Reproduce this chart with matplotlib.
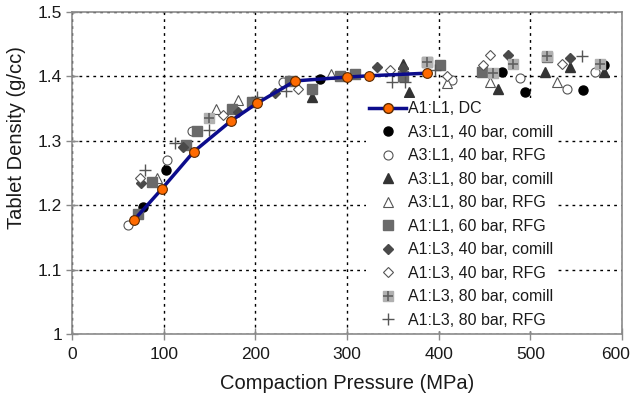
import numpy as np
import matplotlib.pyplot as plt
import matplotlib.transforms as mtransforms
from matplotlib.lines import Line2D

plt.rcParams['font.family'] = ['Liberation Sans', 'DejaVu Sans']

# A1:L1, DC (line + orange markers)
dc_x = [67.6, 97.8, 132.7, 173.5, 201.5, 243.3, 300.4, 324.4, 387.0]
dc_y = [1.177, 1.225, 1.283, 1.331, 1.358, 1.393, 1.399, 1.401, 1.405]

a3l1_40_comill_x = [77.8, 102.5, 270.0, 469.0, 494.0, 557.0, 580.0]
a3l1_40_comill_y = [1.197, 1.254, 1.396, 1.407, 1.376, 1.379, 1.418]

a3l1_40_rfg_x = [61.5, 104.0, 131.0, 230.5, 414.0, 488.7, 540.0, 570.5]
a3l1_40_rfg_y = [1.169, 1.270, 1.316, 1.392, 1.394, 1.397, 1.381, 1.407]

a3l1_80_comill_x = [261.5, 361.5, 368.0, 465.0, 516.0, 543.0, 580.0]
a3l1_80_comill_y = [1.368, 1.420, 1.376, 1.381, 1.407, 1.415, 1.407]

a3l1_80_rfg_x = [92.4, 157.0, 181.0, 283.0, 408.7, 456.0, 528.7]
a3l1_80_rfg_y = [1.243, 1.349, 1.363, 1.404, 1.389, 1.392, 1.392]

a1l1_60_rfg_x = [72.4, 86.9, 124.4, 136.7, 174.0, 196.0, 237.8, 261.5, 292.0,
                 309.0, 361.5, 387.0, 401.5, 447.0, 517.8]
a1l1_60_rfg_y = [1.187, 1.236, 1.294, 1.316, 1.350, 1.361, 1.393, 1.381, 1.401,
                 1.404, 1.400, 1.423, 1.418, 1.407, 1.430]

a1l3_40_comill_x = [74.9, 121.4, 181.5, 221.5, 332.4, 361.5, 476.0, 543.0]
a1l3_40_comill_y = [1.235, 1.291, 1.345, 1.375, 1.415, 1.413, 1.433, 1.428]

a1l3_40_rfg_x = [74.2, 165.0, 246.9, 347.0, 408.7, 448.7, 456.0, 534.0]
a1l3_40_rfg_y = [1.243, 1.340, 1.381, 1.410, 1.400, 1.418, 1.433, 1.420]

a1l3_80_comill_x = [149.8, 387.0, 459.6, 481.5, 517.8, 576.0]
a1l3_80_comill_y = [1.335, 1.423, 1.405, 1.420, 1.431, 1.420]

a1l3_80_rfg_x = [79.6, 112.4, 149.8, 201.5, 233.5, 348.7, 363.0, 396.0, 556.0]
a1l3_80_rfg_y = [1.255, 1.297, 1.317, 1.368, 1.378, 1.392, 1.392, 1.410, 1.431]

fig = plt.figure(figsize=(6.34, 3.95), dpi=100)
ax = fig.add_axes([0.1136, 0.1544, 0.8675, 0.8152])

ms = 6.5
sq_ms = 6.5
ax.plot(a3l1_40_comill_x, a3l1_40_comill_y, 'o', ms=ms, color='black', mec='black', zorder=3)
ax.plot(a3l1_40_rfg_x, a3l1_40_rfg_y, 'o', ms=ms, mfc='white', mec='#555555', mew=0.8, zorder=3)
ax.plot(a3l1_80_comill_x, a3l1_80_comill_y, '^', ms=ms + 0.5, color='#333333', zorder=3)
ax.plot(a3l1_80_rfg_x, a3l1_80_rfg_y, '^', ms=ms + 0.5, mfc='white', mec='#555555', mew=0.8, zorder=3)
ax.plot(a1l1_60_rfg_x, a1l1_60_rfg_y, 's', ms=sq_ms, color='#6a6a6a', zorder=3)
ax.plot(a1l3_40_comill_x, a1l3_40_comill_y, 'D', ms=ms - 1, color='#4a4a4a', zorder=3)
ax.plot(a1l3_40_rfg_x, a1l3_40_rfg_y, 'D', ms=ms - 1, mfc='white', mec='#555555', mew=0.8, zorder=3)
ax.plot(a1l3_80_comill_x, a1l3_80_comill_y, 's', ms=sq_ms, color='#b0b0b0', zorder=3)
ax.plot(a1l3_80_comill_x, a1l3_80_comill_y, '+', ms=sq_ms + 1, color='#606060', mew=1.2, zorder=3)
ax.plot(a1l3_80_rfg_x, a1l3_80_rfg_y, '+', ms=ms + 2, color='#555555', mew=1.0, zorder=3)

ax.plot(dc_x, dc_y, '-o', color='#0c0c8c', lw=2.5, ms=7, mfc='#ff6a00',
        mec='#5a2a00', mew=0.8, zorder=4)

ax.set_xlim(0, 600)
ax.set_ylim(1.0, 1.5)
ax.set_xticks(np.arange(0, 601, 100))
ax.set_yticks([1.0, 1.1, 1.2, 1.3, 1.4, 1.5])
ax.set_yticklabels(['1', '1.1', '1.2', '1.3', '1.4', '1.5'])
ax.grid(True, color='black', linestyle=(0, (2, 3)), linewidth=1.0)
ax.set_axisbelow(True)

for s in ax.spines.values():
    s.set_color('#8a8a8a')
    s.set_linewidth(1.2)
ax.tick_params(direction='inout', length=8, width=1.0, color='#8a8a8a',
               labelsize=12.5, labelcolor='#1a1a1a', pad=3)
ax.tick_params(axis='x', pad=5)

# last x tick label sits a bit left of the spine in the reference
last = ax.get_xticklabels()[-1]
last.set_transform(last.get_transform() +
                   mtransforms.ScaledTranslation(-6 / 100, 0, fig.dpi_scale_trans))

ax.set_xlabel('Compaction Pressure (MPa)', fontsize=14.5, color='#1a1a1a', labelpad=9)
ax.set_ylabel('Tablet Density (g/cc)', fontsize=14.5, color='#1a1a1a')
ax.yaxis.set_label_coords(-0.083, 0.61)

handles = [
    Line2D([], [], color='#0c0c8c', lw=2.5, marker='o', ms=7, mfc='#ff6a00', mec='#5a2a00'),
    Line2D([], [], ls='', marker='o', ms=ms, color='black'),
    Line2D([], [], ls='', marker='o', ms=ms, mfc='white', mec='#555555', mew=0.8),
    Line2D([], [], ls='', marker='^', ms=ms + 0.5, color='#333333'),
    Line2D([], [], ls='', marker='^', ms=ms + 0.5, mfc='white', mec='#555555', mew=0.8),
    Line2D([], [], ls='', marker='s', ms=sq_ms, color='#6a6a6a'),
    Line2D([], [], ls='', marker='D', ms=ms - 1, color='#4a4a4a'),
    Line2D([], [], ls='', marker='D', ms=ms - 1, mfc='white', mec='#555555', mew=0.8),
    (Line2D([], [], ls='', marker='s', ms=sq_ms, color='#b0b0b0'),
     Line2D([], [], ls='', marker='+', ms=sq_ms + 1, color='#606060', mew=1.2)),
    Line2D([], [], ls='', marker='+', ms=ms + 2, color='#555555', mew=1.0),
]
labels = ['A1:L1, DC', 'A3:L1, 40 bar, comill', 'A3:L1, 40 bar, RFG',
          'A3:L1, 80 bar, comill', 'A3:L1, 80 bar, RFG', 'A1:L1, 60 bar, RFG',
          'A1:L3, 40 bar, comill', 'A1:L3, 40 bar, RFG', 'A1:L3, 80 bar, comill',
          'A1:L3, 80 bar, RFG']
leg = ax.legend(handles, labels, loc='upper left', bbox_to_anchor=(0.52, 0.757),
                fontsize=11.5, frameon=True, framealpha=1.0, edgecolor='none',
                fancybox=False, handlelength=2.3, handletextpad=0.15,
                labelspacing=0.53, borderpad=0.2)
for t in leg.get_texts():
    t.set_color('#1a1a1a')

fig.savefig('out.png', dpi=100)
